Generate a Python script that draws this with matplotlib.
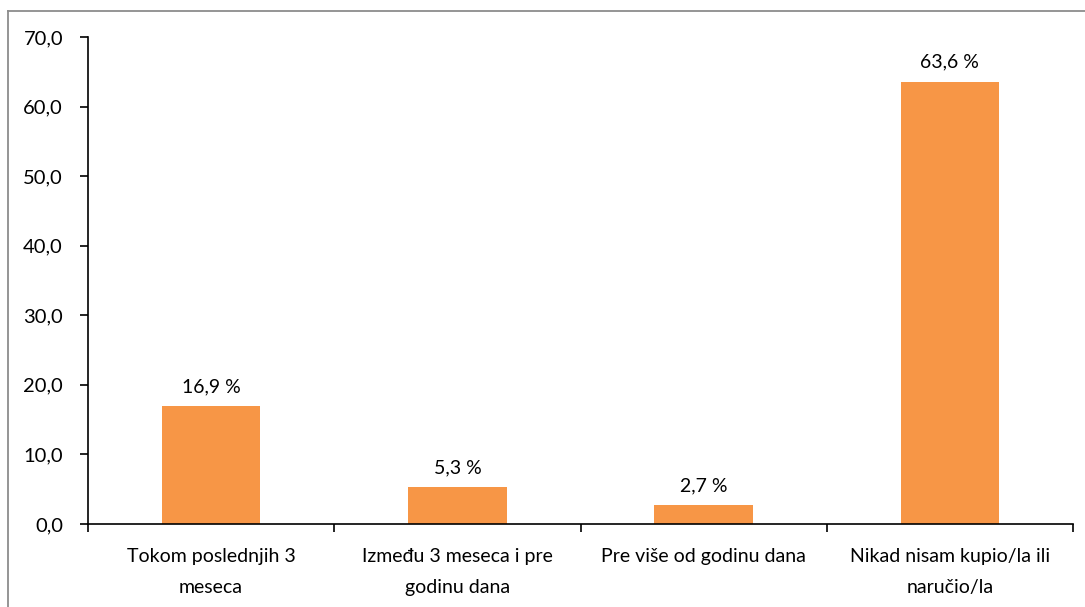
import matplotlib.pyplot as plt
from matplotlib.lines import Line2D

categories = ['Tokom poslednjih 3\nmeseca', 'Između 3 meseca i pre\ngodinu dana',
              'Pre više od godinu dana', 'Nikad nisam kupio/la ili\nnaručio/la']
values = [16.9, 5.3, 2.7, 63.6]
labels = ['16,9 %', '5,3 %', '2,7 %', '63,6 %']
yticks = [0, 10, 20, 30, 40, 50, 60, 70]

plt.rcParams['font.family'] = ['Lato', 'DejaVu Sans']

fig = plt.figure(figsize=(10.85, 6.07), dpi=100)
ax = fig.add_axes([88 / 1085, 1 - 524 / 607, (1073 - 88) / 1085, (524 - 37) / 607])

x = range(len(values))
ax.bar(x, values, width=0.4, color='#F79646')
for i, v in enumerate(values):
    ax.annotate(labels[i], (i, v), xytext=(0, 8), textcoords='offset points',
                ha='center', va='bottom', fontsize=14)

ax.set_xlim(-0.5, len(values) - 0.5)
ax.set_ylim(0, 70)
ax.set_yticks(yticks)
ax.set_yticklabels([f'{t:.1f}'.replace('.', ',') for t in yticks], fontsize=14.5)
ax.set_xticks(list(x))
ax.set_xticklabels(categories, fontsize=14, linespacing=2.05)
ax.set_xticks([i - 0.5 for i in range(len(values) + 1)], minor=True)
ax.tick_params(axis='x', which='major', length=0, pad=17)
ax.tick_params(axis='x', which='minor', length=6, width=1.2, direction='out')
ax.tick_params(axis='y', length=6, width=1.2, direction='out', pad=12)
for s in ['top', 'right']:
    ax.spines[s].set_visible(False)
for s in ['left', 'bottom']:
    ax.spines[s].set_linewidth(1.2)

# gray outer frame (chart area border, cut off at right/bottom)
fy = 1 - 11 / 607
fx = 8 / 1085
fig.add_artist(Line2D([fx, fx], [0, fy], color='#8c8c8c', lw=1.3, transform=fig.transFigure))
fig.add_artist(Line2D([fx, 1], [fy, fy], color='#8c8c8c', lw=1.3, transform=fig.transFigure))

fig.savefig('out.png', dpi=100)
